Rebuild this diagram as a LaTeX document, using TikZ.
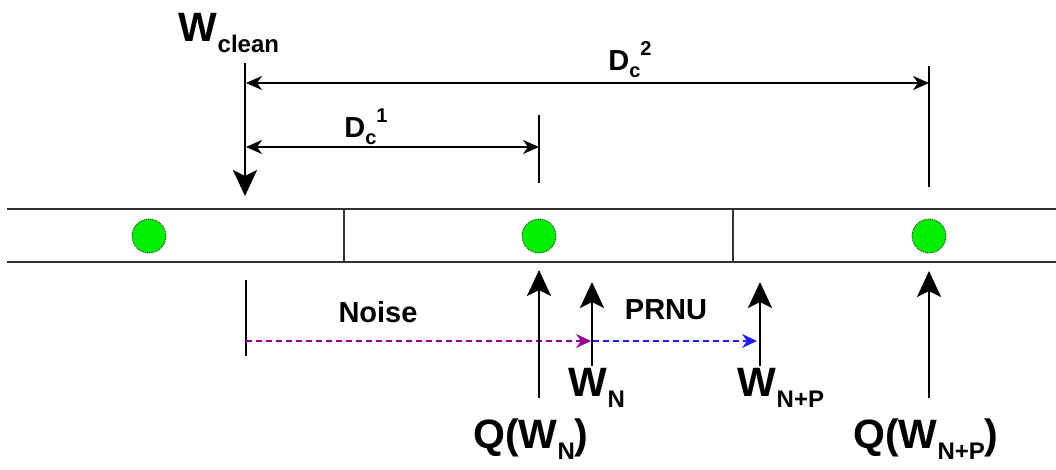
\documentclass[tikz,border=0pt]{standalone}
\usepackage{fontspec}
\setmainfont{Liberation Sans}
\usetikzlibrary{arrows.meta}
\definecolor{noisepurple}{RGB}{150,0,150}
\definecolor{prnublue}{RGB}{30,30,255}
\definecolor{dotgreen}{RGB}{0,240,0}
\newcommand{\lsub}[1]{\raisebox{-0.26em}{\fontsize{24}{26}\selectfont #1}}
\newcommand{\lsubs}[1]{\raisebox{-0.26em}{\fontsize{20}{22}\selectfont #1}}
\newcommand{\lsups}[1]{\raisebox{0.5em}{\fontsize{20}{22}\selectfont #1}}
\begin{document}
\begin{tikzpicture}[x=1pt,y=-1pt,
  boxline/.style={draw=black!80,line width=1.6pt},
  bigarrow/.style={line width=2.8pt,-{Stealth[length=26pt,width=24pt,inset=6pt]}},
  dimarrow/.style={line width=1.4pt,{Stealth[length=16pt,width=14pt,inset=5pt]}-{Stealth[length=16pt,width=14pt,inset=5pt]}},
  tick/.style={line width=1.4pt},
  dasharrow/.style={line width=1.4pt,dash pattern=on 6pt off 4pt,-{Stealth[length=15pt,width=14pt,inset=5pt]}},
  dot/.style={circle,draw=black!80,densely dotted,line width=0.9pt,fill=dotgreen,minimum size=34pt,inner sep=0pt},
  big/.style={font=\bfseries\fontsize{41}{44}\selectfont,inner sep=0pt},
  mid/.style={font=\bfseries\fontsize{29}{31}\selectfont,inner sep=0pt}]
\useasboundingbox (0,0) rectangle (1056,469);
% box
\coordinate (bl1) at (7,209); \coordinate (br1) at (1056,209);
\coordinate (bl2) at (7,262); \coordinate (br2) at (1056,262);
\draw[boxline] (bl1) -- (br1);
\draw[boxline] (bl2) -- (br2);
\coordinate (d1t) at (344,209); \coordinate (d1b) at (344,262);
\coordinate (d2t) at (733,209); \coordinate (d2b) at (733,262);
\draw[boxline] (d1t) -- (d1b);
\draw[boxline] (d2t) -- (d2b);
% dots
\node[dot] (c1) at (149,236) {};
\node[dot] (c2) at (539,236) {};
\node[dot] (c3) at (929,236) {};
% W clean
\node[big] (wclean) at (229,33) {W\lsub{clean}};
\coordinate (wcs) at (245,63); \coordinate (wce) at (245,196);
\draw[bigarrow] (wcs) -- (wce);
% dimension lines
\coordinate (t1a) at (539,115); \coordinate (t1b) at (539,183);
\coordinate (t2a) at (929,66); \coordinate (t2b) at (929,187);
\draw[tick] (t1a) -- (t1b);
\draw[tick] (t2a) -- (t2b);
\coordinate (dc1l) at (246,147); \coordinate (dc1r) at (539,147);
\coordinate (dc2l) at (246,83); \coordinate (dc2r) at (929,83);
\draw[dimarrow] (dc1l) -- (dc1r);
\draw[dimarrow] (dc2l) -- (dc2r);
\node[mid] (dc1) at (366,127) {D\lsubs{c}\lsups{1}};
\node[mid] (dc2) at (630,60) {D\lsubs{c}\lsups{2}};
% noise / prnu
\coordinate (nt1) at (246,280); \coordinate (nt2) at (246,356);
\draw[tick] (nt1) -- (nt2);
\coordinate (ns) at (246,341); \coordinate (ne) at (591,341);
\coordinate (ps) at (593,341); \coordinate (pe) at (757,341);
\draw[dasharrow,draw=noisepurple,fill=noisepurple] (ns) -- (ne);
\draw[dasharrow,draw=prnublue,fill=prnublue] (ps) -- (pe);
\node[mid] (noise) at (378,312) {Noise};
\node[mid] (prnu) at (666,310) {PRNU};
% up arrows
\coordinate (q1s) at (539,398); \coordinate (q1e) at (539,270);
\coordinate (w1s) at (592,366); \coordinate (w1e) at (592,282);
\coordinate (w2s) at (760,366); \coordinate (w2e) at (760,282);
\coordinate (q2s) at (929,398); \coordinate (q2e) at (929,271);
\draw[bigarrow] (q1s) -- (q1e);
\draw[bigarrow] (w1s) -- (w1e);
\draw[bigarrow] (w2s) -- (w2e);
\draw[bigarrow] (q2s) -- (q2e);
\node[big] (wn) at (597,388) {W\lsub{N}};
\node[big] (wnp) at (781,388) {W\lsub{N+P}};
\node[big] (qwn) at (531,439) {Q(W\lsub{N})};
\node[big] (qwnp) at (926,439) {Q(W\lsub{N+P})};
\end{tikzpicture}
\end{document}
